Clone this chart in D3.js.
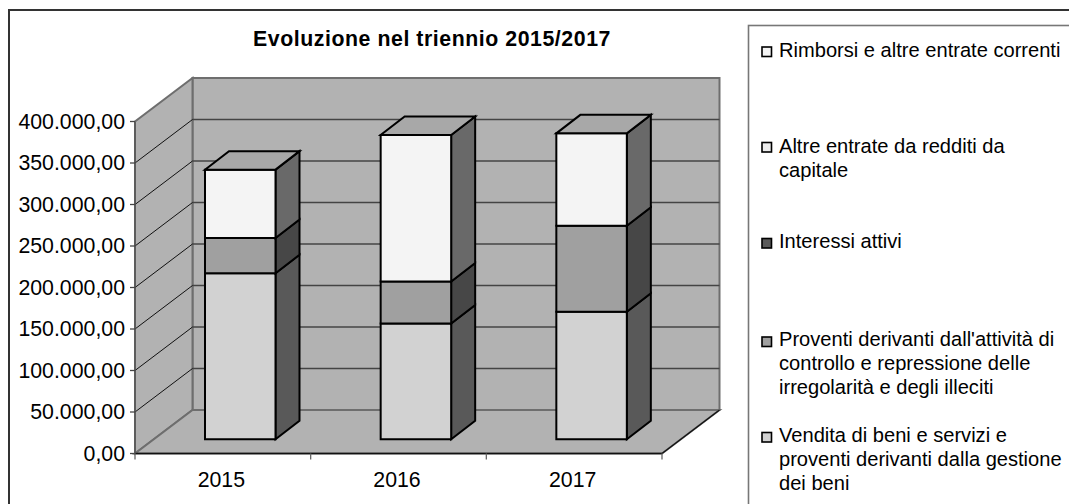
<!DOCTYPE html>
<html><head><meta charset="utf-8">
<script src="https://cdn.jsdelivr.net/npm/d3@7"></script>
<style>html,body{margin:0;background:#fff}svg{display:block}text{font-family:"Liberation Sans",Arial,sans-serif;fill:#000}</style>
</head><body><div id="c"></div>
<script>
const title = "Evoluzione nel triennio 2015/2017";
const categories = ["2015","2016","2017"];
const seriesNames = ["Vendita","Proventi","Interessi","Altre","Rimborsi"];
const vendita   = [200000,139500,153700];
const proventi  = [42500,50600,103600];
const interessi = [0,0,0];
const altre     = [0,0,0];
const rimborsi  = [82400,176500,111300];
const yTicks = [0,50000,100000,150000,200000,250000,300000,350000,400000];
const legendItems = [
  ["Rimborsi e altre entrate correnti"],
  ["Altre entrate da redditi da","capitale"],
  ["Interessi attivi"],
  ["Proventi derivanti dall'attività di","controllo e repressione delle","irregolarità e degli illeciti"],
  ["Vendita di beni e servizi e","proventi derivanti dalla gestione","dei beni"]
];
const legendFill = ["#f4f4f4","#ececec","#5a5a5a","#a0a0a0","#d2d2d2"];
const seriesFront = ["#d2d2d2","#a0a0a0","#5a5a5a","#ececec","#f4f4f4"];
const seriesSide  = ["#595959","#474747","#333333","#6a6a6a","#696969"];
const topFill = "#a8a8a8";
const values = [vendita,proventi,interessi,altre,rimborsi];

const W=1069,H=504;
const svg=d3.select("#c").append("svg").attr("width",W).attr("height",H);
const y=d3.scaleLinear().domain([0,400000]).range([453.5,121.5]);
const x=d3.scaleBand().domain(categories).range([135,662]).paddingInner(0).paddingOuter(0);
const fmt=v=>d3.format(",.2f")(v).replace(/,/g,"#").replace(/\./g,",").replace(/#/g,".");
const dx=57.5,dy=-43.5;
const line=(a,b,c,w)=>svg.append("line").attr("x1",a[0]).attr("y1",a[1]).attr("x2",b[0]).attr("y2",b[1]).attr("stroke",c).attr("stroke-width",w);
const poly=(pts,f,s,w)=>svg.append("polygon").attr("points",pts.map(p=>p.join(",")).join(" ")).attr("fill",f).attr("stroke",s).attr("stroke-width",w).attr("stroke-linejoin","miter");

// frames
svg.append("rect").attr("x",9).attr("y",10).attr("width",1070).attr("height",520).attr("fill","#fff").attr("stroke","#333").attr("stroke-width",2);
svg.append("rect").attr("x",748.5).attr("y",25.5).attr("width",340).attr("height",520).attr("fill","#fff").attr("stroke","#777").attr("stroke-width",1.6);

const x0=x.range()[0],x1=x.range()[1],y0=y(0),yT=y(400000);
const wallC="#b2b2b2",wallS="#6e6e6e";
// walls
poly([[x0+dx,y0+dy],[x1+dx,y0+dy],[x1+dx,yT+dy],[x0+dx,yT+dy]],wallC,wallS,2);
poly([[x0,y0],[x0+dx,y0+dy],[x0+dx,yT+dy],[x0,yT]],wallC,wallS,2);
poly([[x0,y0],[x1,y0],[x1+dx,y0+dy],[x0+dx,y0+dy]],wallC,wallS,2);
// gridlines
yTicks.slice(1,-1).forEach(t=>{
  line([x0+dx,y(t)+dy],[x1+dx,y(t)+dy],"#444",1.5);
  line([x0,y(t)],[x0+dx,y(t)+dy],"#111",1);
});
// floor outline in front
line([x1,y0],[x1+dx,y0+dy],"#111",1.2);
line([x0,y0],[x1,y0],"#111",1.4);
line([x0,y0],[x0,yT],"#555",1.4);
yTicks.forEach(t=>line([x0-5,y(t)],[x0,y(t)],"#444",1.3));
d3.range(4).forEach(i=>line([x0+i*x.bandwidth(),y0],[x0+i*x.bandwidth(),y0+6],"#666",1.3));
// y labels
svg.append("g").selectAll("text").data(yTicks).join("text")
  .attr("x",125).attr("y",d=>y(d)+7).attr("text-anchor","end").attr("font-size",21.3).text(fmt);
svg.append("g").selectAll("text").data(categories).join("text")
  .attr("x",d=>x(d)+x.bandwidth()/2-1.5).attr("y",487).attr("text-anchor","middle").attr("font-size",21.3).text(d=>d);
svg.append("text").attr("x",432).attr("y",46).attr("text-anchor","middle").attr("font-size",21.3).attr("letter-spacing",0.55).attr("font-weight","bold").text(title);

// bars
const bw=70.5,bdx=24,bdy=-18.5,baseShift=-14.2,xShift=70;
categories.forEach((c,i)=>{
  const bx=x(c)+xShift;
  let cum=0;
  values.forEach((v,s)=>{
    const val=v[i]; if(val<=0)return;
    const yb=y(cum)+baseShift, yt=y(cum+val)+baseShift; cum+=val;
    poly([[bx+bw,yb],[bx+bw+bdx,yb+bdy],[bx+bw+bdx,yt+bdy],[bx+bw,yt]],seriesSide[s],"#000",2);
    poly([[bx,yb],[bx+bw,yb],[bx+bw,yt],[bx,yt]],seriesFront[s],"#000",2);
  });
  const yt=y(cum)+baseShift;
  poly([[bx,yt],[bx+bw,yt],[bx+bw+bdx,yt+bdy],[bx+bdx,yt+bdy]],topFill,"#000",2);
});

// legend
const markY=[51.5,147,243,341.5,437];
const textY=[57,153,248,346,442];
legendItems.forEach((ls,i)=>{
  svg.append("rect").attr("x",762).attr("y",markY[i]-4.5).attr("width",9.5).attr("height",9.5).attr("fill",legendFill[i]).attr("stroke","#000").attr("stroke-width",1.6);
  ls.forEach((t,j)=>svg.append("text").attr("x",779).attr("y",textY[i]+j*24).attr("font-size",20.1).text(t));
});
</script></body></html>
